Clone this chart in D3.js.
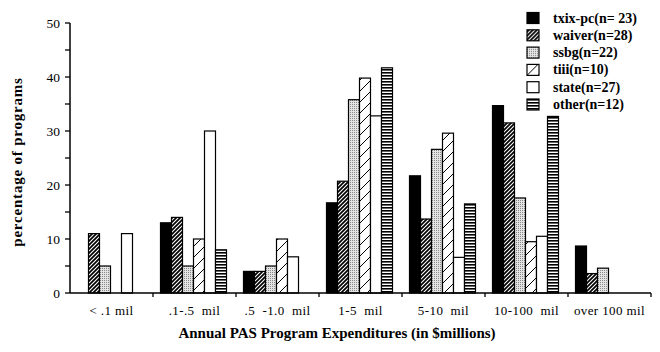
<!DOCTYPE html>
<html><head><meta charset="utf-8">
<script src="https://cdn.jsdelivr.net/npm/d3@7"></script>
<style>body{margin:0;background:#fff}svg{display:block}</style>
</head><body>
<svg id="c" width="660" height="352"></svg>
<script>
const categories = ["< .1 mil", ".1-.5  mil", ".5  -1.0  mil", "1-5  mil", "5-10  mil", "10-100  mil", "over 100 mil"];
const seriesNames = ["txix-pc(n= 23)", "waiver(n=28)", "ssbg(n=22)", "tiii(n=10)", "state(n=27)", "other(n=12)"];
const txix   = [0, 13, 4, 16.7, 21.7, 34.7, 8.7];
const waiver = [11, 14, 4, 20.7, 13.7, 31.5, 3.6];
const ssbg   = [5, 5, 5, 35.8, 26.6, 17.6, 4.6];
const tiii   = [0, 10, 10, 39.8, 29.6, 9.5, 0];
const state  = [11, 30, 6.7, 32.8, 6.6, 10.5, 0];
const other  = [0, 8, 0, 41.7, 16.5, 32.7, 0];
const yTicks = [0, 10, 20, 30, 40, 50];
const yMinorTicks = [0, 5, 10, 15, 20, 25, 30, 35, 40, 45, 50];
const series = [txix, waiver, ssbg, tiii, state, other];
const fills = ["#000", "url(#pWaiver)", "url(#pSsbg)", "url(#pTiii)", "#fff", "url(#pOther)"];

const svg = d3.select("#c");
const defs = svg.append("defs");
let p = defs.append("pattern").attr("id","pWaiver").attr("patternUnits","userSpaceOnUse").attr("width",4).attr("height",4);
p.append("rect").attr("width",4).attr("height",4).attr("fill","#000");
p.append("path").attr("d","M-1,1 l2,-2 M0,4 l4,-4 M3,5 l2,-2").attr("stroke","#fff").attr("stroke-width",1.1);
p = defs.append("pattern").attr("id","pSsbg").attr("patternUnits","userSpaceOnUse").attr("width",2).attr("height",2);
p.append("rect").attr("width",2).attr("height",2).attr("fill","#e4e4e4");
p.append("rect").attr("width",1).attr("height",1).attr("fill","#888");
p = defs.append("pattern").attr("id","pTiii").attr("patternUnits","userSpaceOnUse").attr("width",11).attr("height",11);
p.append("rect").attr("width",11).attr("height",11).attr("fill","#fff");
p.append("path").attr("d","M-1,1 l2,-2 M0,11 l11,-11 M10,12 l2,-2").attr("stroke","#000").attr("stroke-width",1);
p = defs.append("pattern").attr("id","pOther").attr("patternUnits","userSpaceOnUse").attr("width",4).attr("height",3);
p.append("rect").attr("width",4).attr("height",3).attr("fill","#fff");
p.append("rect").attr("width",4).attr("height",1.6).attr("fill","#000");

const x = d3.scaleBand().domain(categories).range([70, 651]).padding(0);
const inner = d3.scaleBand().domain(d3.range(series.length)).range([7.5, 73.5]).padding(0);
const y = d3.scaleLinear().domain([0, 50]).range([293, 23]);

series.forEach((vals, si) => {
  svg.append("g").selectAll("rect").data(vals.map((v, ci) => ({v, c: categories[ci]})).filter(d => d.v > 0))
    .join("rect")
    .attr("x", d => x(d.c) + inner(si))
    .attr("y", d => y(d.v))
    .attr("width", inner.bandwidth())
    .attr("height", d => y(0) - y(d.v))
    .attr("fill", fills[si])
    .attr("stroke", "#000").attr("stroke-width", 1.2);
});

const ya = svg.append("g").attr("transform","translate(70,0)");
ya.append("line").attr("y1", y(0)).attr("y2", y(50)).attr("stroke","#000").attr("stroke-width",1.5);
ya.selectAll("line.t").data(yMinorTicks).join("line").attr("class","t")
  .attr("x1",-5).attr("x2",0).attr("y1",d=>y(d)).attr("y2",d=>y(d)).attr("stroke","#000").attr("stroke-width",1.3);
ya.selectAll("text").data(yTicks).join("text")
  .attr("x",-10).attr("y",d=>y(d)).attr("dy","0.35em").attr("text-anchor","end")
  .attr("font-family","Liberation Serif").attr("font-size",13.5).text(d=>d);

const xa = svg.append("g");
xa.append("line").attr("x1",70).attr("x2",651).attr("y1",293).attr("y2",293).attr("stroke","#000").attr("stroke-width",1.5);
xa.selectAll("line.t").data(categories.slice(1).concat([null])).join("line").attr("class","t")
  .attr("x1",d=> d===null ? 651 : x(d)).attr("x2",d=> d===null ? 651 : x(d))
  .attr("y1",293).attr("y2",297).attr("stroke","#000").attr("stroke-width",1.3);
xa.selectAll("text").data(categories).join("text")
  .attr("x",d=>x(d)+x.bandwidth()/2).attr("y",315).attr("text-anchor","middle")
  .attr("font-family","Liberation Serif").attr("font-size",13).attr("letter-spacing",0.4)
  .style("white-space","pre").text(d=>d);

svg.append("text").attr("x",337).attr("y",338).attr("text-anchor","middle")
  .attr("font-family","Liberation Serif").attr("font-weight","bold").attr("font-size",15)
  .text("Annual PAS Program Expenditures (in $millions)");
svg.append("text").attr("transform","translate(22,162) rotate(-90)").attr("text-anchor","middle")
  .attr("font-family","Liberation Serif").attr("font-weight","bold").attr("font-size",15)
  .attr("letter-spacing",0.8)
  .text("percentage of programs");

const lg = svg.append("g").selectAll("g").data(seriesNames).join("g")
  .attr("transform",(d,i)=>`translate(527,${12.5 + i*17.3})`);
lg.append("rect").attr("width",12).attr("height",11).attr("fill",(d,i)=>fills[i]).attr("stroke","#000").attr("stroke-width",1.2);
lg.append("text").attr("x",26).attr("y",10).attr("font-family","Liberation Serif").attr("font-weight","bold")
  .attr("font-size",14).text(d=>d);
</script>
</body></html>
